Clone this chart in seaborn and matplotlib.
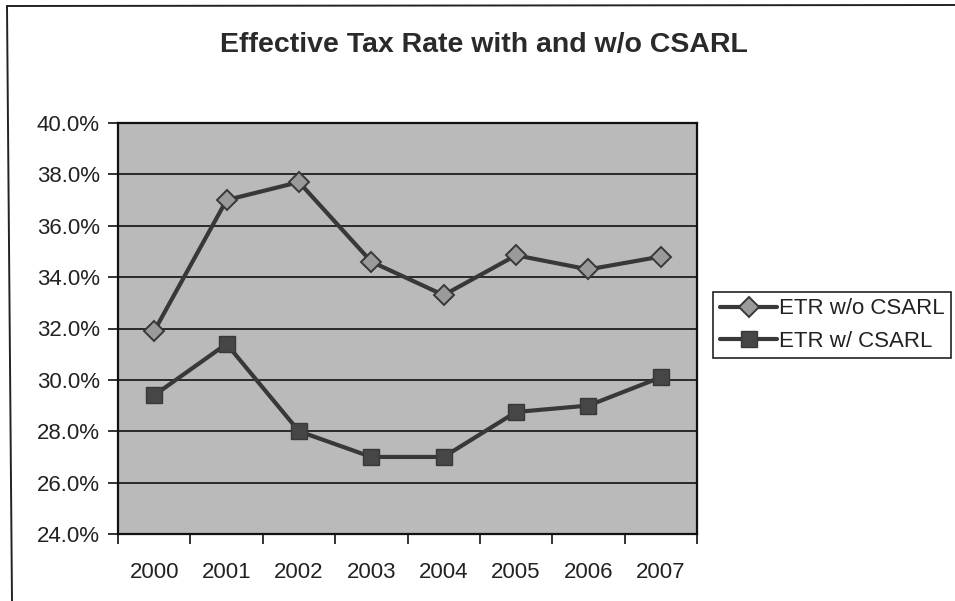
import matplotlib
matplotlib.use("Agg")
import matplotlib.pyplot as plt
from matplotlib.lines import Line2D
from matplotlib.ticker import FixedLocator, FuncFormatter, NullFormatter
import pandas as pd
import seaborn as sns

# Effective tax rate by year (percent)
years = ["2000", "2001", "2002", "2003", "2004", "2005", "2006", "2007"]
etr_without = [31.9, 37.0, 37.7, 34.6, 33.3, 34.85, 34.3, 34.8]
etr_with = [29.4, 31.4, 28.0, 27.0, 27.0, 28.75, 29.0, 30.1]
series_names = ["ETR w/o CSARL", "ETR w/ CSARL"]
title = "Effective Tax Rate with and w/o CSARL"
y_ticks = [24, 26, 28, 30, 32, 34, 36, 38, 40]

df = pd.DataFrame({
    "year": years * 2,
    "rate": etr_without + etr_with,
    "series": [series_names[0]] * len(years) + [series_names[1]] * len(years),
})

sns.set_theme(style="white")
plt.rcParams["font.family"] = ["Liberation Sans", "DejaVu Sans"]

fig = plt.figure(figsize=(9.55, 6.01), dpi=100)
fig.patch.set_facecolor("white")
ax = fig.add_axes([118 / 955, 1 - 534 / 601, (697 - 118) / 955, (534 - 123) / 601])
ax.set_facecolor("#bababa")

line_color = "#383838"
styles = {
    series_names[0]: dict(marker="D", markersize=10, markerfacecolor="#9a9a9a",
                          markeredgecolor="#383838", markeredgewidth=1.4),
    series_names[1]: dict(marker="s", markersize=11.5, markerfacecolor="#464646",
                          markeredgecolor="#383838", markeredgewidth=1.0),
}
for name in series_names:
    sub = df[df["series"] == name]
    sns.lineplot(data=sub, x="year", y="rate", ax=ax, color=line_color,
                 linewidth=3.0, legend=False, zorder=3, **styles[name])

ax.set_xlim(-0.5, len(years) - 0.5)
ax.set_ylim(24, 40)
ax.set_xlabel("")
ax.set_ylabel("")

# horizontal gridlines
ax.yaxis.set_major_locator(FixedLocator(y_ticks))
ax.yaxis.set_major_formatter(FuncFormatter(lambda v, _: f"{v:.1f}%"))
ax.grid(axis="y", color="#111111", linewidth=1.2)
ax.grid(axis="x", visible=False)
ax.set_axisbelow(True)

# category labels centred in bins, tick marks on bin boundaries
ax.xaxis.set_major_locator(FixedLocator([i - 0.5 for i in range(len(years) + 1)]))
ax.xaxis.set_major_formatter(NullFormatter())
ax.xaxis.set_minor_locator(FixedLocator(list(range(len(years)))))
ax.xaxis.set_minor_formatter(FuncFormatter(lambda v, _: years[int(round(v))]))
ax.tick_params(axis="x", which="major", direction="out", length=7, width=1.2,
               color="#111111", bottom=True)
ax.tick_params(axis="x", which="minor", length=0, pad=20, labelsize=16,
               labelcolor="#222222", bottom=True)
ax.tick_params(axis="y", which="major", direction="out", length=7, width=1.2,
               color="#111111", left=True, labelsize=16, labelcolor="#222222", pad=6)

for side in ["left", "right", "top", "bottom"]:
    ax.spines[side].set_visible(True)
    ax.spines[side].set_color("#111111")
    ax.spines[side].set_linewidth(1.6)

fig.text(0.507, 1 - 45 / 601, title, ha="center", va="center",
         fontsize=20.5, fontweight="bold", color="#2a2a2a")

handles = [
    Line2D([], [], color=line_color, linewidth=3.0, **styles[series_names[0]]),
    Line2D([], [], color=line_color, linewidth=3.0, **styles[series_names[1]]),
]
leg = fig.legend(handles, series_names, loc="center left",
                 bbox_to_anchor=(713 / 955, 1 - 325 / 601),
                 fontsize=16, frameon=True, fancybox=False, framealpha=1,
                 edgecolor="#222222", handlelength=2.6, handletextpad=0.05,
                 borderpad=0.3, labelspacing=0.5, borderaxespad=0)
leg.get_frame().set_linewidth(1.2)
for t in leg.get_texts():
    t.set_color("#222222")

# outer chart frame (left and top edges)
fig.add_artist(Line2D([7 / 955, 12 / 955], [1 - 6 / 601, 0], transform=fig.transFigure,
                      color="#222222", linewidth=1.4))
fig.add_artist(Line2D([7 / 955, 1], [1 - 6 / 601, 1 - 5 / 601], transform=fig.transFigure,
                      color="#222222", linewidth=1.4))

fig.savefig("out.png", dpi=100, facecolor="white")
